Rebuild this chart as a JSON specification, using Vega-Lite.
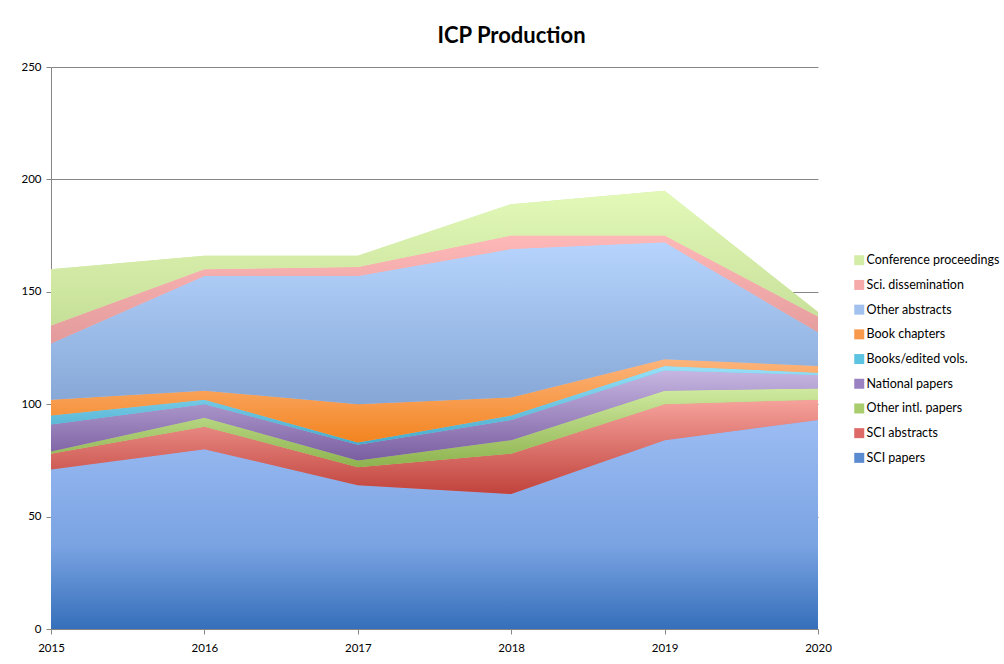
{
  "$schema": "https://vega.github.io/schema/vega-lite/v6.json",
  "autosize": "none",
  "width": 767,
  "height": 562,
  "padding": {"left": 51, "top": 67, "right": 186, "bottom": 35},
  "background": "white",
  "title": {
    "text": "ICP Production",
    "font": "Lato",
    "fontSize": 22,
    "fontWeight": "bold",
    "color": "#000000",
    "anchor": "middle",
    "frame": "group",
    "dx": 77,
    "offset": 13
  },
  "data": {
    "values": [
      {"year": 2015, "series": "SCI papers", "value": 71},
      {"year": 2015, "series": "SCI abstracts", "value": 7},
      {"year": 2015, "series": "Other intl. papers", "value": 1},
      {"year": 2015, "series": "National papers", "value": 12},
      {"year": 2015, "series": "Books/edited vols.", "value": 4},
      {"year": 2015, "series": "Book chapters", "value": 7},
      {"year": 2015, "series": "Other abstracts", "value": 25},
      {"year": 2015, "series": "Sci. dissemination", "value": 8},
      {"year": 2015, "series": "Conference proceedings", "value": 25},
      {"year": 2016, "series": "SCI papers", "value": 80},
      {"year": 2016, "series": "SCI abstracts", "value": 10},
      {"year": 2016, "series": "Other intl. papers", "value": 4},
      {"year": 2016, "series": "National papers", "value": 6},
      {"year": 2016, "series": "Books/edited vols.", "value": 2},
      {"year": 2016, "series": "Book chapters", "value": 4},
      {"year": 2016, "series": "Other abstracts", "value": 51},
      {"year": 2016, "series": "Sci. dissemination", "value": 3},
      {"year": 2016, "series": "Conference proceedings", "value": 6},
      {"year": 2017, "series": "SCI papers", "value": 64},
      {"year": 2017, "series": "SCI abstracts", "value": 8},
      {"year": 2017, "series": "Other intl. papers", "value": 3},
      {"year": 2017, "series": "National papers", "value": 7},
      {"year": 2017, "series": "Books/edited vols.", "value": 1},
      {"year": 2017, "series": "Book chapters", "value": 17},
      {"year": 2017, "series": "Other abstracts", "value": 57},
      {"year": 2017, "series": "Sci. dissemination", "value": 4},
      {"year": 2017, "series": "Conference proceedings", "value": 5},
      {"year": 2018, "series": "SCI papers", "value": 60},
      {"year": 2018, "series": "SCI abstracts", "value": 18},
      {"year": 2018, "series": "Other intl. papers", "value": 6},
      {"year": 2018, "series": "National papers", "value": 9},
      {"year": 2018, "series": "Books/edited vols.", "value": 2},
      {"year": 2018, "series": "Book chapters", "value": 8},
      {"year": 2018, "series": "Other abstracts", "value": 66},
      {"year": 2018, "series": "Sci. dissemination", "value": 6},
      {"year": 2018, "series": "Conference proceedings", "value": 14},
      {"year": 2019, "series": "SCI papers", "value": 84},
      {"year": 2019, "series": "SCI abstracts", "value": 16},
      {"year": 2019, "series": "Other intl. papers", "value": 6},
      {"year": 2019, "series": "National papers", "value": 9},
      {"year": 2019, "series": "Books/edited vols.", "value": 2},
      {"year": 2019, "series": "Book chapters", "value": 3},
      {"year": 2019, "series": "Other abstracts", "value": 52},
      {"year": 2019, "series": "Sci. dissemination", "value": 3},
      {"year": 2019, "series": "Conference proceedings", "value": 20},
      {"year": 2020, "series": "SCI papers", "value": 93},
      {"year": 2020, "series": "SCI abstracts", "value": 9},
      {"year": 2020, "series": "Other intl. papers", "value": 5},
      {"year": 2020, "series": "National papers", "value": 6},
      {"year": 2020, "series": "Books/edited vols.", "value": 1},
      {"year": 2020, "series": "Book chapters", "value": 3},
      {"year": 2020, "series": "Other abstracts", "value": 15},
      {"year": 2020, "series": "Sci. dissemination", "value": 7},
      {"year": 2020, "series": "Conference proceedings", "value": 2}
    ]
  },
  "transform": [
    {"calculate": "indexof(['SCI papers','SCI abstracts','Other intl. papers','National papers','Books/edited vols.','Book chapters','Other abstracts','Sci. dissemination','Conference proceedings'], datum.series)", "as": "rank"},
    {"stack": "value", "groupby": ["year"], "sort": [{"field": "rank", "order": "ascending"}], "as": ["v0", "v1"]}
  ],
  "encoding": {
    "x": {
      "field": "year",
      "type": "quantitative",
      "scale": {"domain": [2015, 2020], "nice": false, "zero": false},
      "axis": {
        "values": [2015, 2016, 2017, 2018, 2019, 2020],
        "format": "d",
        "title": null,
        "grid": false,
        "domainColor": "#868686",
        "tickColor": "#868686",
        "tickSize": 5,
        "labelPadding": 8,
        "labelFont": "Lato",
        "labelFontSize": 11.5,
        "labelColor": "#000000",
        "labelFlush": false
      }
    },
    "y": {
      "field": "v0",
      "type": "quantitative",
      "scale": {"domain": [0, 250], "nice": false},
      "axis": {
        "values": [0, 50, 100, 150, 200, 250],
        "title": null,
        "grid": true,
        "gridColor": "#868686",
        "gridWidth": 1,
        "domainColor": "#868686",
        "tickColor": "#868686",
        "tickSize": 5,
        "labelPadding": 5,
        "labelFont": "Lato",
        "labelFontSize": 11.5,
        "labelColor": "#000000"
      }
    },
    "y2": {"field": "v1"}
  },
  "layer": [
    {
      "mark": {"type": "area", "opacity": 1},
      "encoding": {
        "color": {
          "field": "series",
          "type": "nominal",
          "scale": {
            "domain": ["Conference proceedings", "Sci. dissemination", "Other abstracts", "Book chapters", "Books/edited vols.", "National papers", "Other intl. papers", "SCI abstracts", "SCI papers"],
            "range": ["#d3eca6", "#f7aaaa", "#a3c1ee", "#f79a4c", "#5cc3e0", "#9a82c2", "#a9cc6c", "#dd6a66", "#5a8ad0"]
          },
          "legend": {
            "orient": "none",
            "legendX": 802,
            "legendY": 187,
            "title": null,
            "symbolType": "square",
            "symbolSize": 100,
            "symbolStrokeWidth": 0,
            "labelFont": "Lato",
            "labelFontSize": 12.5,
            "labelColor": "#000000",
            "labelOffset": 1,
            "rowPadding": 11.7,
            "labelLimit": 300
          }
        }
      }
    },
    {
      "transform": [{"filter": "datum.series === 'SCI papers'"}],
      "mark": {"type": "area", "fill": {"gradient": "linear", "x1": 0, "y1": 0, "x2": 0, "y2": 1, "stops": [{"offset": 0, "color": "#9cbcf3"}, {"offset": 0.6, "color": "#7aa3e2"}, {"offset": 1, "color": "#356fba"}]}}
    },
    {
      "transform": [{"filter": "datum.series === 'SCI abstracts'"}],
      "mark": {"type": "area", "fill": {"gradient": "linear", "x1": 0, "y1": 0, "x2": 0, "y2": 1, "stops": [{"offset": 0, "color": "#f6a29c"}, {"offset": 1, "color": "#c0433c"}]}}
    },
    {
      "transform": [{"filter": "datum.series === 'Other intl. papers'"}],
      "mark": {"type": "area", "fill": {"gradient": "linear", "x1": 0, "y1": 0, "x2": 0, "y2": 1, "stops": [{"offset": 0, "color": "#cfeaa0"}, {"offset": 1, "color": "#8db24e"}]}}
    },
    {
      "transform": [{"filter": "datum.series === 'National papers'"}],
      "mark": {"type": "area", "fill": {"gradient": "linear", "x1": 0, "y1": 0, "x2": 0, "y2": 1, "stops": [{"offset": 0, "color": "#c6b6e2"}, {"offset": 1, "color": "#7a5ea0"}]}}
    },
    {
      "transform": [{"filter": "datum.series === 'Books/edited vols.'"}],
      "mark": {"type": "area", "fill": {"gradient": "linear", "x1": 0, "y1": 0, "x2": 0, "y2": 1, "stops": [{"offset": 0, "color": "#98e0f8"}, {"offset": 1, "color": "#46aacb"}]}}
    },
    {
      "transform": [{"filter": "datum.series === 'Book chapters'"}],
      "mark": {"type": "area", "fill": {"gradient": "linear", "x1": 0, "y1": 0, "x2": 0, "y2": 1, "stops": [{"offset": 0, "color": "#fcb47c"}, {"offset": 1, "color": "#f3841f"}]}}
    },
    {
      "transform": [{"filter": "datum.series === 'Other abstracts'"}],
      "mark": {"type": "area", "fill": {"gradient": "linear", "x1": 0, "y1": 0, "x2": 0, "y2": 1, "stops": [{"offset": 0, "color": "#b6d4fd"}, {"offset": 1, "color": "#86a7d6"}]}}
    },
    {
      "transform": [{"filter": "datum.series === 'Sci. dissemination'"}],
      "mark": {"type": "area", "fill": {"gradient": "linear", "x1": 0, "y1": 0, "x2": 0, "y2": 1, "stops": [{"offset": 0, "color": "#ffb8b8"}, {"offset": 1, "color": "#e29a9a"}]}}
    },
    {
      "transform": [{"filter": "datum.series === 'Conference proceedings'"}],
      "mark": {"type": "area", "fill": {"gradient": "linear", "x1": 0, "y1": 0, "x2": 0, "y2": 1, "stops": [{"offset": 0, "color": "#e2f9b8"}, {"offset": 1, "color": "#c6df98"}]}}
    }
  ],
  "config": {
    "view": {"stroke": null},
    "axis": {"zindex": 0}
  }
}
